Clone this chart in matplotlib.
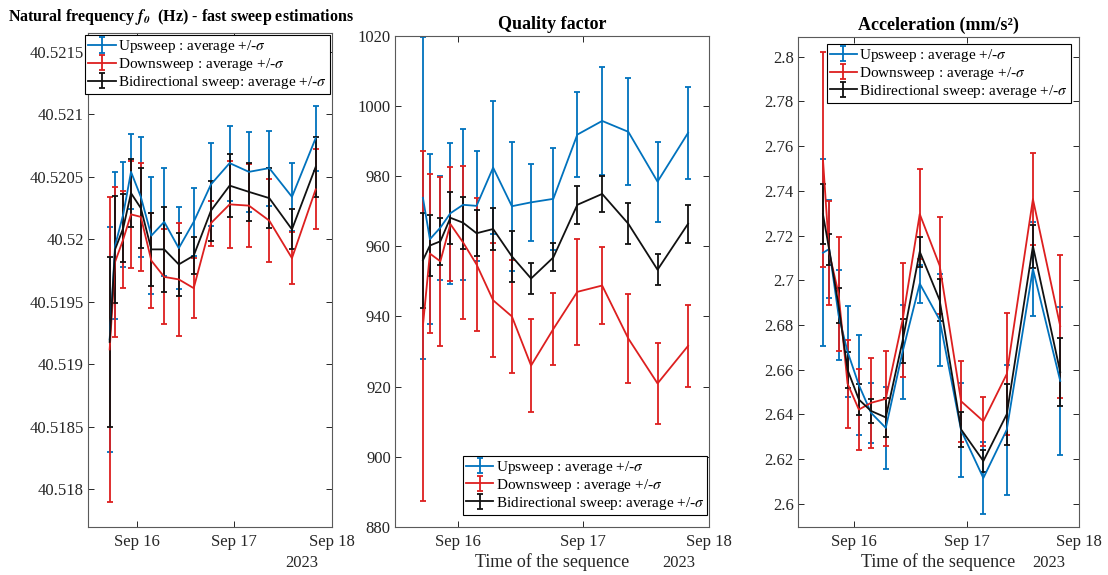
import numpy as np
import pandas as pd
import matplotlib
matplotlib.use("Agg")
import matplotlib.pyplot as plt
import matplotlib.dates as mdates
from matplotlib.ticker import FuncFormatter

plt.rcParams['font.family'] = ['Liberation Serif', 'DejaVu Serif']
plt.rcParams['mathtext.fontset'] = 'stix'

times = pd.to_datetime([
    "2023-09-15 17:20", "2023-09-15 18:40", "2023-09-15 20:40", "2023-09-15 22:35",
    "2023-09-16 01:00", "2023-09-16 03:35", "2023-09-16 06:45", "2023-09-16 10:20",
    "2023-09-16 14:00", "2023-09-16 18:15", "2023-09-16 22:50", "2023-09-17 03:35",
    "2023-09-17 08:35", "2023-09-17 14:10", "2023-09-17 20:00"])

# natural frequency (Hz)
f_up = [40.5192, 40.51995, 40.5202, 40.52054, 40.52034, 40.52003, 40.52014, 40.51993,
        40.52014, 40.52044, 40.52061, 40.52054, 40.52057, 40.52034, 40.52081]
f_up_sd = [0.0009, 0.00059, 0.00042, 0.0003, 0.00048, 0.00047, 0.00043, 0.00033,
           0.00027, 0.00033, 0.0003, 0.00032, 0.0003, 0.00027, 0.00026]
f_dn = [40.51912, 40.51982, 40.52, 40.5202, 40.52018, 40.51983, 40.5197, 40.51968,
        40.51961, 40.52013, 40.52028, 40.52027, 40.52015, 40.51985, 40.5204]
f_dn_sd = [0.00122, 0.0006, 0.00039, 0.00043, 0.00043, 0.00038, 0.00038, 0.00045,
           0.00024, 0.00018, 0.00035, 0.00033, 0.00033, 0.00021, 0.00032]
f_bi = [40.51918, 40.51992, 40.52009, 40.52037, 40.52025, 40.51992, 40.51992, 40.5198,
        40.51987, 40.52023, 40.52043, 40.52038, 40.52033, 40.52008, 40.52058]
f_bi_sd = [0.00068, 0.00043, 0.00027, 0.00027, 0.00032, 0.00029, 0.00034, 0.00025,
           0.00015, 0.00024, 0.00025, 0.00023, 0.00024, 0.00016, 0.00024]

# quality factor
q_up = [973.8, 962.0, 965.3, 969.4, 971.8, 971.5, 982.4, 971.4,
        972.5, 973.5, 991.8, 995.7, 992.6, 978.4, 992.3]
q_up_sd = [45.8, 24.2, 14.8, 20.1, 21.5, 15.6, 19.0, 18.4,
           10.9, 14.5, 12.2, 15.5, 15.2, 11.4, 13.2]
q_dn = [937.3, 957.9, 955.7, 966.3, 961.1, 954.8, 944.6, 940.0,
        926.0, 936.4, 947.0, 948.8, 933.7, 920.9, 931.6]
q_dn_sd = [49.8, 22.7, 24.0, 16.2, 21.8, 19.0, 16.2, 16.0,
           13.3, 10.2, 15.1, 11.1, 12.6, 11.5, 11.6]
q_bi = [956.0, 960.2, 961.4, 968.1, 966.7, 963.7, 964.9, 957.1,
        950.8, 956.8, 971.8, 974.9, 966.4, 953.3, 966.4]
q_bi_sd = [13.6, 8.8, 6.7, 7.4, 7.4, 6.6, 6.0, 7.3,
           4.5, 4.0, 5.5, 5.2, 5.8, 4.4, 5.4]

# acceleration (mm/s^2)
a_up = [2.7123, 2.714, 2.6844, 2.6681, 2.6532, 2.6408, 2.634, 2.668,
        2.6985, 2.6823, 2.6329, 2.6116, 2.6332, 2.7051, 2.655]
a_up_sd = [0.0419, 0.022, 0.0202, 0.0203, 0.0225, 0.0135, 0.0185, 0.021,
           0.0085, 0.0205, 0.021, 0.016, 0.029, 0.021, 0.033]
a_dn = [2.754, 2.7123, 2.694, 2.6538, 2.6422, 2.6452, 2.647, 2.6822,
        2.7296, 2.7066, 2.6459, 2.637, 2.6581, 2.7363, 2.6795]
a_dn_sd = [0.0482, 0.0233, 0.0255, 0.0197, 0.0182, 0.02, 0.0212, 0.0255,
           0.02, 0.0216, 0.018, 0.011, 0.0274, 0.0205, 0.032]
a_bi = [2.7295, 2.7138, 2.6887, 2.66, 2.6467, 2.6416, 2.6387, 2.6729,
        2.7128, 2.6911, 2.6333, 2.6192, 2.6401, 2.7153, 2.659]
a_bi_sd = [0.0134, 0.0069, 0.0077, 0.008, 0.0071, 0.0054, 0.0087, 0.0099,
           0.0067, 0.0095, 0.0078, 0.0049, 0.0136, 0.0096, 0.0152]

labels = ['Upsweep : average +/-$\\sigma$',
          'Downsweep : average +/-$\\sigma$',
          'Bidirectional sweep: average +/-$\\sigma$']
colors = ['#0072BD', '#DD1F1F', '#111111']


def trim(v, pos):
    return f'{v:.6f}'.rstrip('0').rstrip('.')


fig = plt.figure(figsize=(11.08, 5.75), dpi=100)
ax1 = fig.add_axes([0.0794, 0.0835, 0.2202, 0.859])
ax2 = fig.add_axes([0.3565, 0.0835, 0.2834, 0.8545])
ax3 = fig.add_axes([0.7202, 0.0835, 0.2536, 0.8530])

panels = [
    (ax1, [(f_up, f_up_sd), (f_dn, f_dn_sd), (f_bi, f_bi_sd)]),
    (ax2, [(q_up, q_up_sd), (q_dn, q_dn_sd), (q_bi, q_bi_sd)]),
    (ax3, [(a_up, a_up_sd), (a_dn, a_dn_sd), (a_bi, a_bi_sd)]),
]

for ax, series in panels:
    for (m, s), c, lab in zip(series, colors, labels):
        ax.errorbar(times, m, yerr=s, color=c, lw=1.3, elinewidth=1.3,
                    capsize=2, capthick=1.3, label=lab)
    ax.set_xlim(pd.Timestamp("2023-09-15 12:00"), pd.Timestamp("2023-09-18 00:00"))
    ax.xaxis.set_major_locator(mdates.DayLocator())
    ax.xaxis.set_major_formatter(mdates.DateFormatter('%b %d'))
    ax.yaxis.set_major_formatter(FuncFormatter(trim))
    ax.tick_params(direction='in', top=True, right=True, length=4, width=0.7,
                   labelsize=12, colors='#262626', pad=5)
    ax.tick_params(axis='y', pad=3)
    for sp in ax.spines.values():
        sp.set_color('#5a5a5a')
        sp.set_linewidth(0.8)
    ax.annotate('2023', xy=(1, 0), xycoords='axes fraction', xytext=(-10, -26),
                textcoords='offset points', ha='right', va='center',
                fontsize=12, color='#262626')

ax1.set_ylim(40.5177, 40.52165)
ax1.set_yticks(np.arange(40.518, 40.5216, 0.0005))
ax2.set_ylim(880, 1020)
ax2.set_yticks(np.arange(880, 1021, 20))
ax3.set_ylim(2.5897, 2.809)
ax3.set_yticks(np.arange(2.6, 2.8001, 0.02))

ax2.set_xlabel('Time of the sequence', fontsize=13, labelpad=2, color='#262626')
ax3.set_xlabel('Time of the sequence', fontsize=13, labelpad=2, color='#262626')

leg_kw = dict(fontsize=11, fancybox=False, edgecolor='black', framealpha=1,
              handlelength=1.8, handletextpad=0.15, borderpad=0.2,
              labelspacing=0.05)
l1 = ax1.legend(loc='upper right', borderaxespad=0.15, **leg_kw)
l2 = ax2.legend(loc='lower right', bbox_to_anchor=(1.0, 0.022), borderaxespad=0.1, **leg_kw)
l3 = ax3.legend(loc='upper right', borderaxespad=0.5, **leg_kw)
for lg in (l1, l2, l3):
    lg.get_frame().set_linewidth(0.8)

fig.text(181 / 1108, 1 - 17 / 575, 'Natural frequency $\\mathbfit{f}_{\\mathbfit{0}}$  (Hz) - fast sweep estimations',
         ha='center', va='center', fontsize=11.5, fontweight='bold')
ax2.set_title('Quality factor', fontsize=13, fontweight='bold', pad=5)
ax3.set_title('Acceleration (mm/s²)', fontsize=13, fontweight='bold', pad=5)

fig.savefig('out.png', dpi=100)
